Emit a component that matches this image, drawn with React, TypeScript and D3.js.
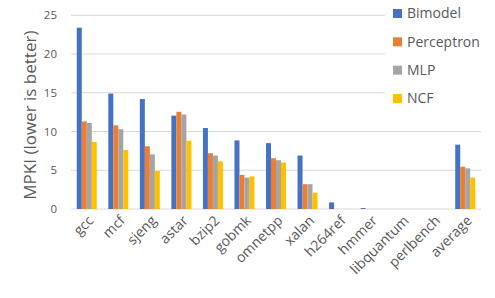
import React from 'react';
import * as d3 from 'd3';

const categories = ['gcc', 'mcf', 'sjeng', 'astar', 'bzip2', 'gobmk', 'omnetpp', 'xalan', 'h264ref', 'hmmer', 'libquantum', 'perlbench', 'average'];
const seriesNames = ['Bimodel', 'Perceptron', 'MLP', 'NCF'];
const bimodel = [23.4, 14.9, 14.2, 12.05, 10.45, 8.85, 8.5, 6.9, 0.85, 0.12, 0, 0, 8.3];
const perceptron = [11.3, 10.8, 8.1, 12.55, 7.2, 4.4, 6.55, 3.2, 0, 0, 0, 0, 5.45];
const mlp = [11.1, 10.3, 7.05, 12.2, 6.9, 4.05, 6.3, 3.2, 0, 0, 0, 0, 5.25];
const ncf = [8.65, 7.6, 4.9, 8.8, 6.15, 4.2, 6.0, 2.1, 0, 0, 0, 0, 4.05];
const yTicks = [0, 5, 10, 15, 20, 25];
const colors = ['#4472C4', '#ED7D31', '#A5A5A5', '#FFC000'];

const seriesValues = [bimodel, perceptron, mlp, ncf];

const App: React.FC = () => {
  const width = 495;
  const height = 298;
  const font = "'Open Sans', sans-serif";

  // Scales
  const x = d3.scaleBand<string>().domain(categories).range([71, 481]).padding(0);
  const groupWidth = 20;
  const xInner = d3.scaleBand<string>().domain(seriesNames).range([0, groupWidth]).padding(0);
  const y = d3.scaleLinear().domain([0, 25]).range([209, 15.3]);

  const legendY = d3.scalePoint<string>().domain(seriesNames).range([13.5, 98.5]);

  return (
    <svg width={width} height={height} style={{ position: 'absolute', left: 0, top: 0, background: '#fff' }}>
      {/* Grid lines */}
      {yTicks.map((t) => (
        <line key={t} x1={71} x2={481} y1={y(t)} y2={y(t)} stroke="#D9D9D9" strokeWidth={1} />
      ))}

      {/* Bars */}
      {seriesValues.map((vals, si) => (
        <g key={seriesNames[si]} fill={colors[si]}>
          {vals.map((v, ci) => {
            const bx = (x(categories[ci]) ?? 0) + (x.bandwidth() - groupWidth) / 2 + (xInner(seriesNames[si]) ?? 0);
            if (v <= 0) return null;
            return <rect key={ci} x={bx} y={y(v)} width={xInner.bandwidth()} height={y(0) - y(v)} />;
          })}
        </g>
      ))}

      {/* Y tick labels */}
      {yTicks.map((t) => (
        <text key={t} x={57} y={y(t)} dy="0.35em" textAnchor="end" fontFamily={font} fontSize={11.5} fill="#595959">
          {t}
        </text>
      ))}

      {/* Y axis title */}
      <text
        transform={`translate(30, ${(y(0) + y(25)) / 2 + 3}) rotate(-90)`}
        textAnchor="middle"
        dy="0.35em"
        fontFamily={font}
        fontSize={17}
        fill="#595959"
      >
        MPKI (lower is better)
      </text>

      {/* X labels */}
      {categories.map((c) => {
        const cx = (x(c) ?? 0) + x.bandwidth() / 2;
        return (
          <text
            key={c}
            transform={`translate(${cx + 4}, 218) rotate(-45)`}
            textAnchor="end"
            dy="0.35em"
            fontFamily={font}
            fontSize={14}
            fill="#595959"
          >
            {c}
          </text>
        );
      })}

      {/* Legend */}
      <rect x={385} y={0} width={110} height={110} fill="#fff" />
      {seriesNames.map((s, i) => (
        <g key={s} transform={`translate(393, ${legendY(s)})`}>
          <rect x={0} y={-4.5} width={9} height={9} fill={colors[i]} />
          <text x={14} y={0} dy="0.35em" fontFamily={font} fontSize={14} fill="#595959">
            {s}
          </text>
        </g>
      ))}
    </svg>
  );
};

export default App;
